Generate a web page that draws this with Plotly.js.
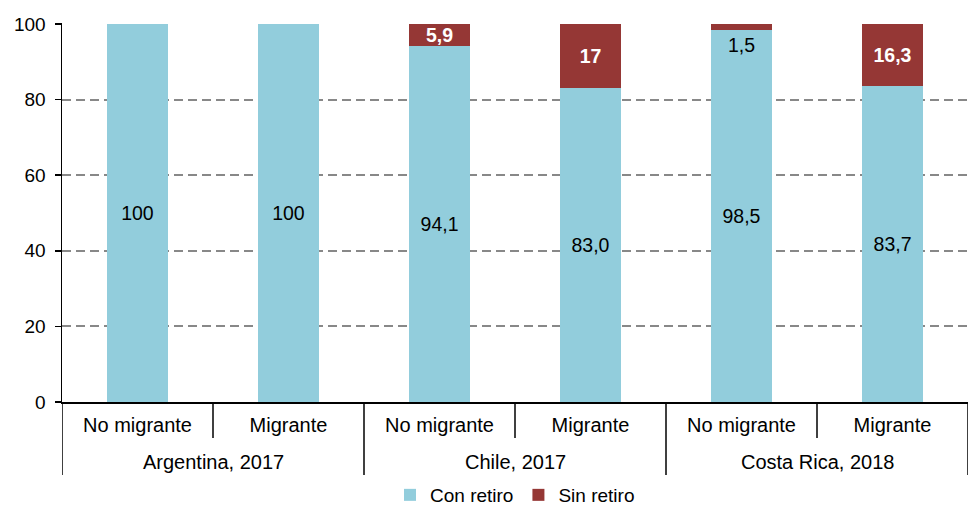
<!DOCTYPE html>
<html>
<head>
<meta charset="utf-8">
<script src="https://cdn.plot.ly/plotly-3.0.1.min.js"></script>
<style>html,body{margin:0;padding:0;background:#fff;}#chart{width:970px;height:514px;}</style>
</head>
<body>
<div id="chart"></div>
<script>
var countries = ["Argentina, 2017","Argentina, 2017","Chile, 2017","Chile, 2017","Costa Rica, 2018","Costa Rica, 2018"];
var groups = ["No migrante","Migrante","No migrante","Migrante","No migrante","Migrante"];
var conRetiro = [100, 100, 94.1, 83.0, 98.5, 83.7];
var sinRetiro = [0, 0, 5.9, 17, 1.5, 16.3];
var conLabels = ["100","100","94,1","83,0","98,5","83,7"];
var sinLabels = ["","","5,9","17","","16,3"];
var smallLabels = ["","","","","1,5",""];

var FONT = "Arial, 'Liberation Sans', sans-serif";
var pos = groups.map(function (_, i) { return i; });

var PLOT_H = 514 - 23 - 112;
var TICK_PX = 36, DIV_PX = 73, GROUP_LABEL_PX = 60;

var traces = [
  {
    type: "bar", name: "Con retiro", x: pos, y: conRetiro,
    marker: {color: "#92CDDC"},
    text: conLabels, texttemplate: "%{text}", textposition: "inside",
    insidetextanchor: "middle", textangle: 0,
    textfont: {family: FONT, size: 19.5, color: "#000"},
    hoverinfo: "none"
  },
  {
    type: "bar", name: "Sin retiro", x: pos, y: sinRetiro,
    marker: {color: "#953735"},
    text: sinLabels, texttemplate: "%{text}", textposition: "inside",
    insidetextanchor: "middle", textangle: 0,
    constraintext: "none",
    textfont: {family: FONT, size: 19.5, color: "#fff", weight: "bold"},
    hoverinfo: "none"
  }
];

var annotations = [];
smallLabels.forEach(function (t, i) {
  if (t) {
    annotations.push({
      x: pos[i], y: conRetiro[i], xref: "x", yref: "y",
      text: t, showarrow: false, yanchor: "top", yshift: -2,
      font: {family: FONT, size: 19.5, color: "#000"}
    });
  }
});

// group labels and dividers (axis decoration derived from the category arrays)
var shapes = [];
var uniq = [];
countries.forEach(function (c) { if (uniq.indexOf(c) < 0) uniq.push(c); });
uniq.forEach(function (c) {
  var idx = pos.filter(function (i) { return countries[i] === c; });
  var mid = (idx[0] + idx[idx.length - 1]) / 2;
  annotations.push({
    x: mid, y: -GROUP_LABEL_PX / PLOT_H, xref: "x", yref: "paper",
    text: c, showarrow: false, yanchor: "middle",
    font: {family: FONT, size: 20, color: "#000"}
  });
});
for (var b = 0; b <= pos.length; b++) {
  var isDivider = (b === 0 || b === pos.length || countries[b] !== countries[b - 1]);
  shapes.push({
    type: "line", xref: "x", yref: "paper",
    x0: b - 0.5, x1: b - 0.5, y0: 0,
    y1: -(isDivider ? DIV_PX : TICK_PX) / PLOT_H,
    line: {color: "#000", width: 1.5}
  });
}

var layout = {
  width: 970, height: 514,
  margin: {l: 62, r: 2, t: 23, b: 112},
  barmode: "stack",
  bargap: 0.6,
  paper_bgcolor: "#fff", plot_bgcolor: "#fff",
  font: {family: FONT, size: 19, color: "#000"},
  showlegend: true,
  annotations: annotations,
  shapes: shapes,
  legend: {
    orientation: "h", x: 0.5, xanchor: "center",
    yref: "container", y: -0.018, yanchor: "bottom",
    font: {family: FONT, size: 19, color: "#000"},
    itemwidth: 30, traceorder: "normal"
  },
  xaxis: {
    range: [-0.5, pos.length - 0.5],
    tickvals: pos, ticktext: groups,
    showline: true, linecolor: "#000", linewidth: 1.5,
    ticks: "", ticklabelstandoff: 4,
    tickfont: {family: FONT, size: 20, color: "#000"},
    showgrid: false, zeroline: false, automargin: false
  },
  yaxis: {
    range: [0, 100.25], tickvals: [0, 20, 40, 60, 80, 100],
    showline: true, linecolor: "#000", linewidth: 1.5,
    ticks: "outside", ticklen: 6, tickcolor: "#000", tickwidth: 1.5,
    ticklabelstandoff: 5,
    showgrid: true, gridcolor: "#888", griddash: "9px,5px", gridwidth: 2,
    zeroline: false, automargin: false,
    tickfont: {family: FONT, size: 19, color: "#000"}
  }
};

Plotly.newPlot("chart", traces, layout, {displayModeBar: false, staticPlot: true});
</script>
</body>
</html>
